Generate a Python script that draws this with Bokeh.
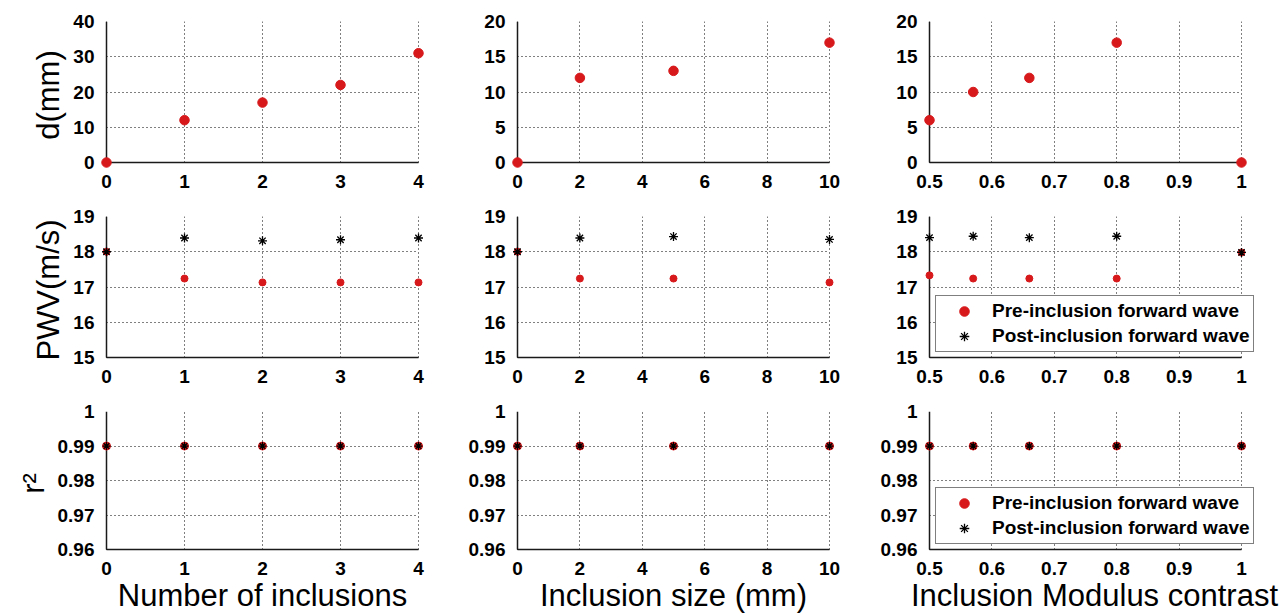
from bokeh.plotting import figure
from bokeh.layouts import column, row
from bokeh.models import FixedTicker, Legend, LegendItem, Range1d
from bokeh.embed import file_html
from bokeh.resources import INLINE

RED = "#d7191c"
FONT = "Liberation Sans"

# ---- x values for each column ----
n_incl = [0, 1, 2, 3, 4]
size_mm = [0, 2, 5, 10]
modulus = [0.5, 0.57, 0.66, 0.8, 1.0]

# ---- row 1: d (mm) ----
d_n = [0, 12, 17, 22, 31]
d_size = [0, 12, 13, 17]
d_mod = [6, 10, 12, 17, 0]

# ---- row 2: PWV (m/s) ----
pwv_pre_n = [18.0, 17.24, 17.13, 17.13, 17.13]
pwv_post_n = [18.0, 18.39, 18.31, 18.34, 18.39]
pwv_pre_size = [18.0, 17.24, 17.24, 17.13]
pwv_post_size = [18.0, 18.39, 18.43, 18.35]
pwv_pre_mod = [17.33, 17.24, 17.24, 17.24, 17.98]
pwv_post_mod = [18.40, 18.44, 18.40, 18.44, 17.98]

# ---- row 3: r^2 ----
r2_pre_n = [0.99, 0.99, 0.99, 0.99, 0.99]
r2_post_n = [0.99, 0.99, 0.99, 0.99, 0.99]
r2_pre_size = [0.99, 0.99, 0.99, 0.99]
r2_post_size = [0.99, 0.99, 0.99, 0.99]
r2_pre_mod = [0.99, 0.99, 0.99, 0.99, 0.99]
r2_post_mod = [0.99, 0.99, 0.99, 0.99, 0.99]

# ---- ticks ----
xt_n = [0, 1, 2, 3, 4]
xl_n = ["0", "1", "2", "3", "4"]
xt_size = [0, 2, 4, 6, 8, 10]
xl_size = ["0", "2", "4", "6", "8", "10"]
xt_mod = [0.5, 0.6, 0.7, 0.8, 0.9, 1.0]
xl_mod = ["0.5", "0.6", "0.7", "0.8", "0.9", "1"]
yt_d40 = [0, 10, 20, 30, 40]
yl_d40 = ["0", "10", "20", "30", "40"]
yt_d20 = [0, 5, 10, 15, 20]
yl_d20 = ["0", "5", "10", "15", "20"]
yt_pwv = [15, 16, 17, 18, 19]
yl_pwv = ["15", "16", "17", "18", "19"]
yt_r2 = [0.96, 0.97, 0.98, 0.99, 1.0]
yl_r2 = ["0.96", "0.97", "0.98", "0.99", "1"]

x_labels = ["Number of inclusions", "Inclusion size (mm)", "Inclusion Modulus contrast"]
y_labels = ["d(mm)", "PWV(m/s)", "r\u00b2"]
legend_labels = ["Pre-inclusion forward wave", "Post-inclusion forward wave"]

# ---- layout (pixels) ----
DW, DH = 312, 141            # data-area size of each panel
PAD_L, PAD_B = 6, 6          # room so edge markers are not clipped
col_pad_r = [6, 6, 24]       # right pad (last column also holds the legend)
col_left = [100, 63, 64]
col_right = [24, 24, 17]
row_top = [21, 21, 21]
row_bottom = [27, 27, 57]
AXIS_COLOR = "#1a1a1a"


def make_fig(ci, ri, xr, yr, xt, xl, yt, yl):
    x0, x1 = xr
    y0, y1 = yr
    sx = (x1 - x0) / DW
    sy = (y1 - y0) / DH
    fw = PAD_L + DW + col_pad_r[ci]
    fh = DH + PAD_B
    w = col_left[ci] + fw + col_right[ci]
    h = row_top[ri] + fh + row_bottom[ri]
    p = figure(width=w, height=h, output_backend="svg", toolbar_location=None,
               x_range=Range1d(x0 - PAD_L * sx, x1 + col_pad_r[ci] * sx),
               y_range=Range1d(y0 - PAD_B * sy, y1),
               min_border_left=col_left[ci], min_border_right=col_right[ci],
               min_border_top=row_top[ri], min_border_bottom=row_bottom[ri])
    p.outline_line_color = None
    p.background_fill_color = "white"
    p.border_fill_color = "white"
    xa, ya = p.xaxis[0], p.yaxis[0]
    xa.bounds = (x0, x1)
    ya.bounds = (y0, y1)
    for ax, ticks, labels in ((xa, xt, xl), (ya, yt, yl)):
        ax.ticker = FixedTicker(ticks=ticks)
        ax.major_label_overrides = dict(zip(ticks, labels))
        ax.major_label_text_font = FONT
        ax.major_label_text_font_style = "bold"
        ax.major_label_text_font_size = "19px"
        ax.major_label_text_color = "black"
        ax.major_label_standoff = 0
        ax.axis_line_color = None
        ax.major_tick_line_color = None
        ax.minor_tick_line_color = None
        ax.axis_label_text_font = FONT
        ax.axis_label_text_font_style = "normal"
        ax.axis_label_text_font_size = "31px"
        ax.axis_label_text_color = "black"
        ax.axis_label_standoff = 0
    ya.axis_label_standoff = 4
    xg, yg = p.xgrid[0], p.ygrid[0]
    xg.cross_bounds = (y0, y1)
    yg.cross_bounds = (x0, x1)
    for g in (xg, yg):
        g.grid_line_color = "black"
        g.grid_line_dash = "1 3"
        g.grid_line_width = 1.1
    # axis rules drawn at the data origin of the panel (box off, left + bottom only)
    p.segment(x0=[x0, x0], y0=[y0, y0], x1=[x1, x0], y1=[y0, y1],
              line_color=AXIS_COLOR, line_width=1.5)
    if ri == 2:
        xa.axis_label = x_labels[ci]
    if ci == 0:
        ya.axis_label = y_labels[ri]
    return p


def add_legend(p, rp, rq):
    lg = Legend(items=[LegendItem(label=legend_labels[0], renderers=[rp]),
                       LegendItem(label=legend_labels[1], renderers=[rq])],
                location=(12, 11), margin=0, padding=3, spacing=1,
                glyph_width=50, glyph_height=24, label_height=24, label_standoff=3,
                label_text_font=FONT, label_text_font_style="bold",
                label_text_font_size="19px", label_text_color="black",
                border_line_color="black", border_line_width=1,
                background_fill_color="white", background_fill_alpha=1)
    p.add_layout(lg)


xs = [n_incl, size_mm, modulus]
xranges = [(0, 4), (0, 10), (0.5, 1.0)]
xts = [(xt_n, xl_n), (xt_size, xl_size), (xt_mod, xl_mod)]

rows = []
# row 1
r1 = []
d_vals = [d_n, d_size, d_mod]
d_ticks = [(yt_d40, yl_d40), (yt_d20, yl_d20), (yt_d20, yl_d20)]
d_ranges = [(0, 40), (0, 20), (0, 20)]
for ci in range(3):
    p = make_fig(ci, 0, xranges[ci], d_ranges[ci], xts[ci][0], xts[ci][1], d_ticks[ci][0], d_ticks[ci][1])
    p.scatter(xs[ci], d_vals[ci], marker="circle", size=9.5, fill_color=RED, line_color=RED)
    r1.append(p)
rows.append(row(*r1))

# row 2
r2 = []
pre = [pwv_pre_n, pwv_pre_size, pwv_pre_mod]
post = [pwv_post_n, pwv_post_size, pwv_post_mod]
for ci in range(3):
    p = make_fig(ci, 1, xranges[ci], (15, 19), xts[ci][0], xts[ci][1], yt_pwv, yl_pwv)
    rp = p.scatter(xs[ci], pre[ci], marker="circle", size=7, fill_color=RED, line_color=RED)
    rq = p.scatter(xs[ci], post[ci], marker="asterisk", size=9, line_color="black", line_width=1.3)
    if ci == 2:
        add_legend(p, rp, rq)
    r2.append(p)
rows.append(row(*r2))

# row 3
r3 = []
pre = [r2_pre_n, r2_pre_size, r2_pre_mod]
post = [r2_post_n, r2_post_size, r2_post_mod]
for ci in range(3):
    p = make_fig(ci, 2, xranges[ci], (0.96, 1.0), xts[ci][0], xts[ci][1], yt_r2, yl_r2)
    rp = p.scatter(xs[ci], pre[ci], marker="circle", size=8, fill_color=RED, line_color=RED)
    rq = p.scatter(xs[ci], post[ci], marker="asterisk", size=8, line_color="black", line_width=1.3)
    if ci == 2:
        add_legend(p, rp, rq)
    r3.append(p)
rows.append(row(*r3))

layout = column(*rows)
open("out.html", "w").write(file_html(layout, INLINE))
